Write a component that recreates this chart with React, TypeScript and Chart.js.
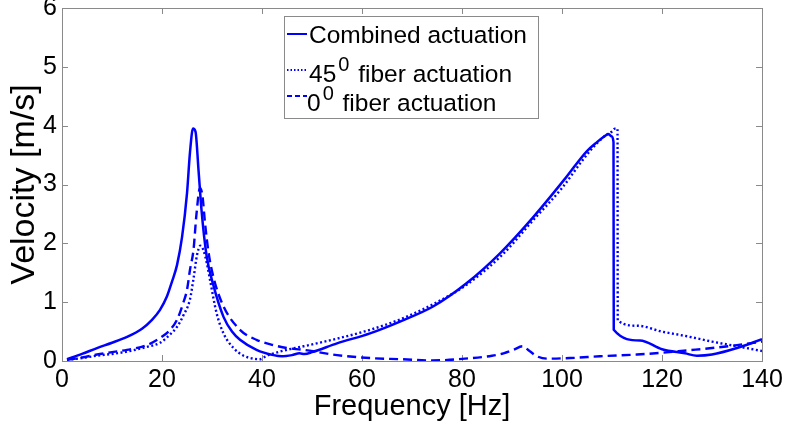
import React, { useEffect, useRef } from "react";
import { Chart, registerables } from "chart.js";

Chart.register(...registerables);

// ---- data ----
const combinedFreq = [1, 4, 7, 10, 13, 16, 18, 19.6, 21, 22, 23, 24, 25, 25.6, 26.2, 26.7, 27.3, 27.9, 28.9, 30.3, 32.3, 34, 35.6, 38.9, 42.3, 44, 46, 47.5, 48.5, 50, 55, 61.6, 67.6, 74.3, 80.9, 87.6, 94.3, 100.9, 104.9, 107, 108.5, 109.3, 109.9, 110.3, 110.35, 115.6, 120, 124.6, 127, 130, 135, 140];
const combinedVel = [0.03, 0.12, 0.22, 0.31, 0.41, 0.55, 0.7, 0.87, 1.1, 1.35, 1.63, 2.1, 2.85, 3.55, 3.95, 3.9, 3.25, 2.57, 1.8, 1.28, 0.75, 0.5, 0.36, 0.19, 0.1, 0.08, 0.1, 0.13, 0.12, 0.15, 0.3, 0.47, 0.67, 0.93, 1.32, 1.83, 2.45, 3.13, 3.56, 3.72, 3.82, 3.86, 3.82, 3.72, 0.53, 0.35, 0.2, 0.13, 0.09, 0.11, 0.22, 0.37];

const fiber45Freq = [1, 4, 7, 10, 13, 17, 19.6, 21.6, 23, 24.3, 25.6, 26.3, 27, 27.7, 28.3, 29, 29.6, 30.9, 32.3, 34.3, 36.3, 38.3, 39.5, 41, 43.6, 46, 48.3, 55, 61.6, 68, 75, 81, 88, 94.3, 100, 104, 106.3, 108.5, 110, 110.6, 111.1, 111.15, 115, 120, 125, 130, 135, 140];
const fiber45Vel = [0.02, 0.05, 0.09, 0.12, 0.16, 0.24, 0.31, 0.45, 0.58, 0.78, 1.05, 1.4, 1.8, 1.96, 1.88, 1.65, 1.38, 0.82, 0.47, 0.22, 0.09, 0.04, 0.03, 0.09, 0.16, 0.21, 0.25, 0.38, 0.53, 0.72, 1.0, 1.3, 1.8, 2.4, 2.94, 3.4, 3.64, 3.82, 3.9, 3.95, 3.95, 0.69, 0.6, 0.5, 0.42, 0.33, 0.25, 0.17];

const fiber0Freq = [1, 4, 7, 10, 13, 17, 19.6, 21.5, 23, 24.3, 25, 25.6, 26.3, 26.9, 27.6, 28.1, 28.6, 29.3, 30.3, 32.3, 35.6, 38.9, 42.3, 45, 48.3, 55, 61.6, 68, 74, 82, 86, 88.3, 90.3, 92.1, 93.5, 95, 97, 101.6, 107.6, 115, 120, 125, 130, 135, 140];
const fiber0Vel = [0.02, 0.06, 0.11, 0.15, 0.19, 0.27, 0.39, 0.52, 0.7, 1.0, 1.21, 1.55, 1.89, 2.5, 2.94, 2.8, 2.35, 1.85, 1.42, 0.93, 0.53, 0.36, 0.27, 0.22, 0.19, 0.1, 0.05, 0.03, 0.01, 0.05, 0.09, 0.13, 0.19, 0.25, 0.17, 0.08, 0.04, 0.05, 0.08, 0.11, 0.14, 0.18, 0.22, 0.27, 0.33];

const seriesNames = ["Combined actuation", "45\u2070 fiber actuation", "0\u2070 fiber actuation"];
const legendMain = ["Combined actuation", "45", "0"];
const legendSup = ["", "0", "0"];
const legendTail = ["", " fiber actuation", " fiber actuation"];

const xAxisTitle = "Frequency [Hz]";
const yAxisTitle = "Velocity [m/s]";

const BLUE = "#0000ff";
const FONT = "'Liberation Sans', Arial, Helvetica, sans-serif";
const dashes = [[], [2, 2.5], [9, 5]];

const toPoints = (xs: number[], ys: number[]) => xs.map((x, i) => ({ x, y: ys[i] }));

const boxPlugin = {
  id: "matlabBox",
  beforeDatasetsDraw(chart: any) {
    const { ctx, chartArea, scales } = chart;
    const { left, top, right, bottom } = chartArea;
    ctx.save();
    ctx.strokeStyle = "#8a8a8a";
    ctx.lineWidth = 1;
    ctx.strokeRect(Math.round(left) + 0.5, Math.round(top) + 0.5, Math.round(right - left), Math.round(bottom - top));
    const tl = 6;
    ctx.beginPath();
    scales.x.ticks.forEach((t: any) => {
      const px = Math.round(scales.x.getPixelForValue(t.value)) + 0.5;
      ctx.moveTo(px, bottom);
      ctx.lineTo(px, bottom - tl);
      ctx.moveTo(px, top);
      ctx.lineTo(px, top + tl);
    });
    scales.y.ticks.forEach((t: any) => {
      const py = Math.round(scales.y.getPixelForValue(t.value)) + 0.5;
      ctx.moveTo(left, py);
      ctx.lineTo(left + tl, py);
      ctx.moveTo(right, py);
      ctx.lineTo(right - tl, py);
    });
    ctx.stroke();
    ctx.restore();
  },
};

const legendPlugin = {
  id: "matlabLegend",
  afterDraw(chart: any) {
    const { ctx } = chart;
    ctx.save();
    const bx = 284.5, by = 16.5, bw = 254, bh = 102;
    ctx.fillStyle = "#ffffff";
    ctx.fillRect(bx, by, bw, bh);
    ctx.strokeStyle = "#8a8a8a";
    ctx.lineWidth = 1;
    ctx.strokeRect(bx, by, bw, bh);
    const sampleY = [34, 70, 96];
    const baseY = [43, 82, 111];
    const textX = [309, 309, 307];
    for (let i = 0; i < 3; i++) {
      ctx.strokeStyle = BLUE;
      ctx.lineWidth = 2;
      ctx.setLineDash(i === 1 ? [1.5, 2] : i === 2 ? [5, 3] : []);
      ctx.beginPath();
      ctx.moveTo(287, sampleY[i]);
      ctx.lineTo(307, sampleY[i]);
      ctx.stroke();
      ctx.setLineDash([]);
      ctx.fillStyle = "#000000";
      ctx.textBaseline = "alphabetic";
      ctx.textAlign = "left";
      ctx.font = `24.5px ${FONT}`;
      let x = textX[i];
      ctx.fillText(legendMain[i], x, baseY[i]);
      x += ctx.measureText(legendMain[i]).width;
      if (legendSup[i]) {
        ctx.font = `20px ${FONT}`;
        ctx.fillText(legendSup[i], x + 2, baseY[i] - 11);
        x += ctx.measureText(legendSup[i]).width + 4;
        ctx.font = `24.5px ${FONT}`;
        ctx.fillText(legendTail[i], x, baseY[i]);
      }
    }
    ctx.restore();
  },
};

export default function App() {
  const canvasRef = useRef<HTMLCanvasElement | null>(null);

  useEffect(() => {
    if (!canvasRef.current) return;
    const series = [
      toPoints(combinedFreq, combinedVel),
      toPoints(fiber45Freq, fiber45Vel),
      toPoints(fiber0Freq, fiber0Vel),
    ];
    const chart = new Chart(canvasRef.current, {
      type: "line",
      data: {
        datasets: series.map((d, i) => ({
          label: seriesNames[i],
          data: d,
          borderColor: BLUE,
          backgroundColor: BLUE,
          borderWidth: i === 0 ? 2.5 : 2.4,
          borderDash: dashes[i],
          pointRadius: 0,
          fill: false,
          cubicInterpolationMode: "monotone" as const,
        })),
      },
      options: {
        responsive: false,
        animation: false,
        devicePixelRatio: 1,
        layout: { padding: { left: 0, top: 8, right: 23, bottom: 0 } },
        plugins: { legend: { display: false }, tooltip: { enabled: false } },
        scales: {
          x: {
            type: "linear",
            min: 0,
            max: 140,
            grid: { display: false, drawTicks: false },
            border: { display: false },
            ticks: { stepSize: 20, padding: 4, color: "#000", font: { size: 25, family: FONT } },
            title: { display: true, text: xAxisTitle, color: "#000", font: { size: 29, family: FONT }, padding: { top: 0, bottom: 3 } },
            afterFit(scale: any) {
              scale.height = 66;
              scale.paddingLeft = 0;
              scale.paddingRight = 0;
            },
          },
          y: {
            type: "linear",
            min: 0,
            max: 6,
            grid: { display: false, drawTicks: false },
            border: { display: false },
            ticks: { stepSize: 1, padding: 5, color: "#000", font: { size: 25, family: FONT } },
            title: { display: true, text: yAxisTitle, color: "#000", font: { size: 34, family: FONT }, padding: { top: 4, bottom: 0 } },
            afterFit(scale: any) {
              scale.width = 62;
              scale.paddingTop = 0;
              scale.paddingBottom = 0;
            },
          },
        },
      },
      plugins: [boxPlugin, legendPlugin],
    });
    return () => chart.destroy();
  }, []);

  return (
    <div style={{ position: "absolute", left: 0, top: 0, width: 785, height: 427, background: "#fff" }}>
      <canvas ref={canvasRef} width={785} height={427} style={{ display: "block" }} />
    </div>
  );
}
